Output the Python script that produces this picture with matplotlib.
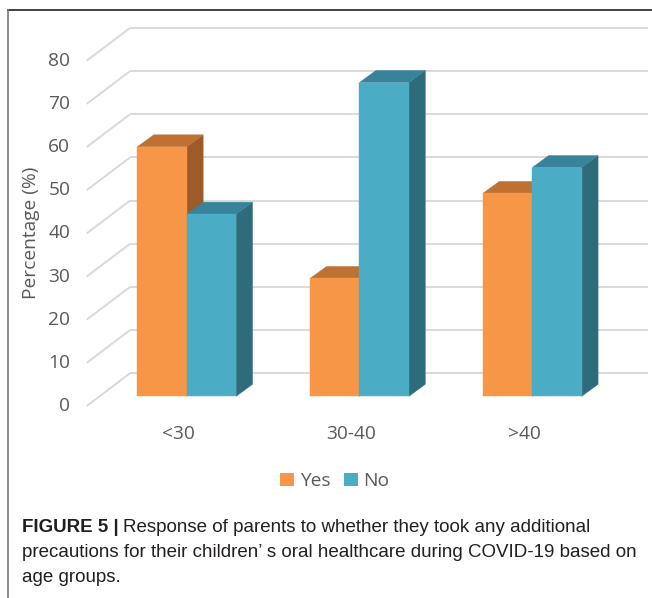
import matplotlib
matplotlib.use('Agg')
import matplotlib.pyplot as plt
from matplotlib.patches import Polygon, Patch
from matplotlib.lines import Line2D

# ---------------- data ----------------
categories = ['<30', '30-40', '>40']
series_names = ['Yes', 'No']
yes_values = [57.8, 27.3, 47.0]
no_values = [42.2, 72.7, 53.0]
y_ticks = [0, 10, 20, 30, 40, 50, 60, 70, 80]
y_label = 'Percentage (%)'
caption_bold = 'FIGURE 5 |'
caption_line1 = 'Response of parents to whether they took any additional'
caption_line2 = 'precautions for their children\u2019 s oral healthcare during COVID-19 based on'
caption_line3 = 'age groups.'

# ---------------- style ----------------
W, H = 652, 598
face = {'Yes': '#F79646', 'No': '#4BACC6'}
top = {'Yes': '#BF7134', 'No': '#37849A'}
side = {'Yes': '#9C5B28', 'No': '#2F6C7B'}
grid_col = '#D9D9D9'
txt_col = '#595959'
chart_font = ['Open Sans', 'DejaVu Sans']
cap_font = ['Liberation Sans Narrow', 'Liberation Sans', 'DejaVu Sans']
fs = 13.8

fig = plt.figure(figsize=(W / 100, H / 100), dpi=100)
ax = fig.add_axes([86.7 / W, (H - 396.3) / H, (648 - 86.7) / W, (396.3 - 51.0) / H])
ax.set_xlim(-0.579, 2.670)
ax.set_ylim(0, 80)
ax.axis('off')

# pseudo-3D geometry (in data units)
bw = 0.286            # bar width
DX, DY = 0.095, 2.78  # bar depth
wall_x = -0.5025      # left wall at bar plane
BX, BY = 0.174, 5.33  # back wall offset
FX, FY = -0.0764, -2.25  # front floor offset
x_right = 2.670

# gridlines: side wall diagonals + back wall lines
for v in y_ticks:
    ax.plot([wall_x + FX, wall_x + BX], [v + FY, v + BY], color=grid_col,
            lw=1.4, solid_capstyle='butt', clip_on=False, zorder=0)
    ax.plot([wall_x + BX, x_right], [v + BY, v + BY], color=grid_col,
            lw=1.4, solid_capstyle='butt', clip_on=False, zorder=0)
    ax.text(wall_x + FX - 0.095, v + FY, str(v), ha='right', va='center',
            fontsize=fs, color=txt_col, family=chart_font)

# bars
for i, cat in enumerate(categories):
    for name, vals, off in (('Yes', yes_values, -bw / 2), ('No', no_values, bw / 2)):
        v = vals[i]
        x0 = i + off - bw / 2
        x1 = i + off + bw / 2
        ax.add_patch(Polygon([(x1, 0), (x1 + DX, DY), (x1 + DX, v + DY), (x1, v)],
                             closed=True, facecolor=side[name], edgecolor=side[name],
                             lw=0.3, clip_on=False, zorder=2))
        ax.add_patch(Polygon([(x0, v), (x1, v), (x1 + DX, v + DY), (x0 + DX, v + DY)],
                             closed=True, facecolor=top[name], edgecolor=top[name],
                             lw=0.3, clip_on=False, zorder=2))
        ax.bar(i + off, v, width=bw, color=face[name], edgecolor=face[name],
               lw=0.3, clip_on=False, zorder=2)
    ax.text(i + FX + 0.03, -8.8, cat, ha='center', va='center', fontsize=fs,
            color=txt_col, family=chart_font)

# y label
fig.text(31 / W, 1 - 233 / H, y_label, rotation=90, ha='center', va='center',
         fontsize=fs, color=txt_col, family=chart_font)

# legend
handles = [Patch(facecolor=face[n], edgecolor='none') for n in series_names]
fig.legend(handles, series_names, loc='center', bbox_to_anchor=(335 / W, 1 - 481 / H),
           ncol=2, frameon=False, handlelength=0.7, handleheight=0.7,
           handletextpad=0.3, columnspacing=0.75,
           prop={'family': chart_font, 'size': fs}, labelcolor=txt_col)

# frame lines
fig.add_artist(Line2D([7.5 / W, 1], [1 - 9.8 / H, 1 - 9.8 / H], color='#333333', lw=1.3))
fig.add_artist(Line2D([7.8 / W, 7.8 / W], [0, 1 - 9.8 / H], color='#777777', lw=1.2))

# caption
cap_size = 13.5
cap_col = '#231F20'
t_bold = fig.text(22 / W, 1 - 528 / H, caption_bold, ha='left', va='center',
                  fontsize=cap_size, fontweight='bold', color=cap_col, family=cap_font)
fig.canvas.draw()
bb = t_bold.get_window_extent(renderer=fig.canvas.get_renderer())
fig.text((bb.x1 + 4) / W, 1 - 528 / H, caption_line1, ha='left', va='center',
         fontsize=cap_size, color=cap_col, family=cap_font)
fig.text(22 / W, 1 - 552.5 / H, caption_line2, ha='left', va='center',
         fontsize=cap_size, color=cap_col, family=cap_font)
fig.text(22 / W, 1 - 577 / H, caption_line3, ha='left', va='center',
         fontsize=cap_size, color=cap_col, family=cap_font)

fig.savefig('out.png', dpi=100)
